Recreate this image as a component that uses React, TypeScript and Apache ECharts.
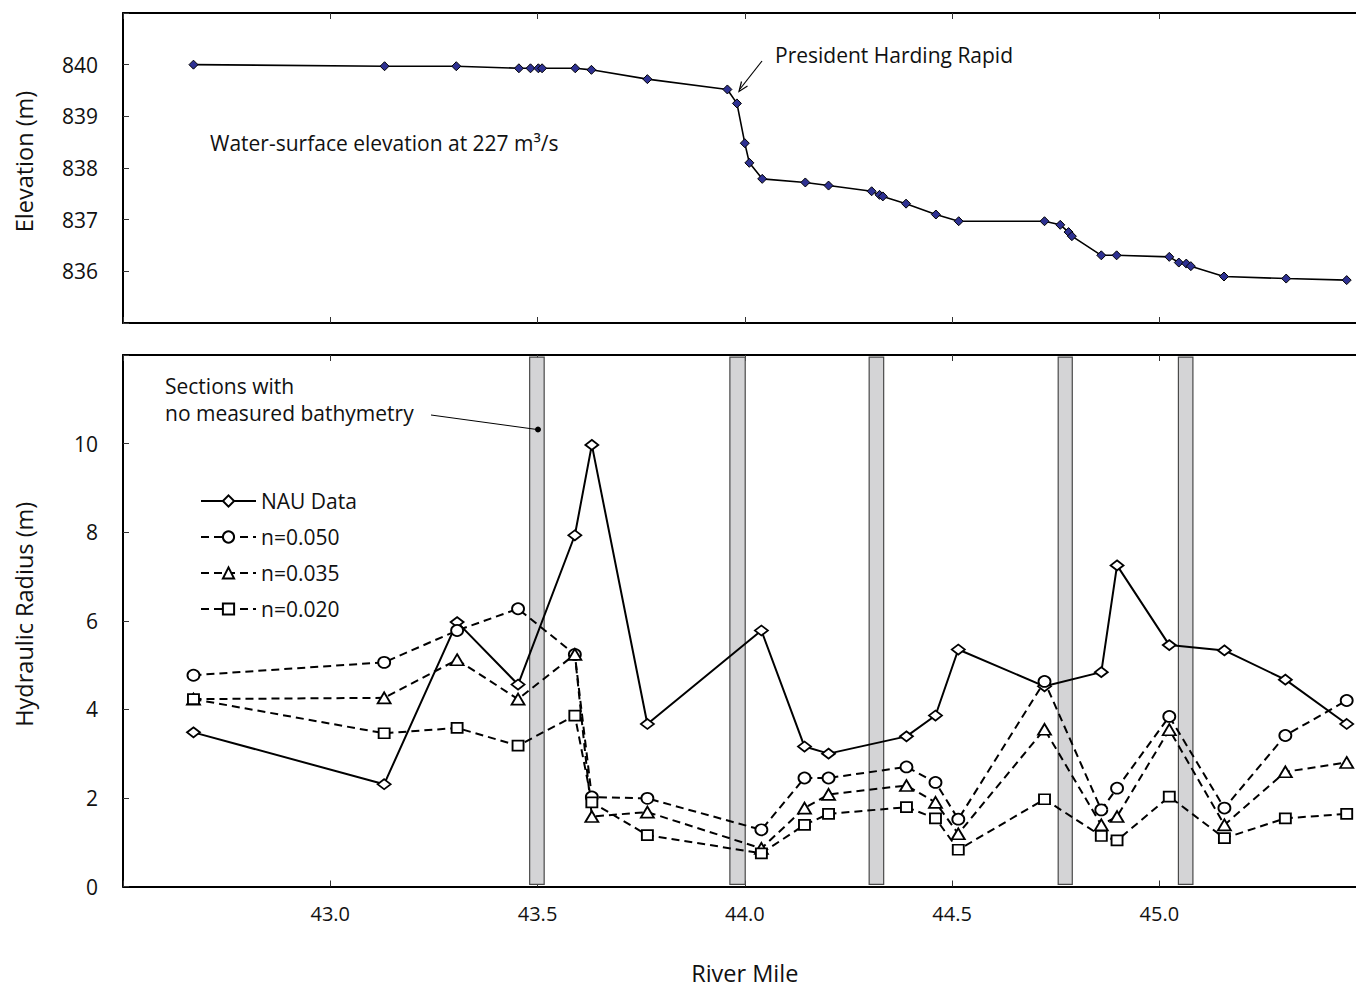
import React, { useEffect, useRef } from "react";
import * as echarts from "echarts";

// ---- Data ----
const elevMiles = [
  42.67, 43.131, 43.304, 43.455, 43.483, 43.502, 43.511, 43.591, 43.63, 43.765,
  43.958, 43.981, 44.0, 44.011, 44.042, 44.146, 44.202, 44.306, 44.325, 44.333,
  44.389, 44.461, 44.516, 44.723, 44.761, 44.781, 44.789, 44.86, 44.897, 45.024,
  45.047, 45.065, 45.076, 45.156, 45.306, 45.452,
];
const elevation = [
  840.0, 839.97, 839.97, 839.93, 839.93, 839.93, 839.93, 839.93, 839.9, 839.72,
  839.52, 839.25, 838.48, 838.1, 837.79, 837.72, 837.66, 837.55, 837.48, 837.45,
  837.31, 837.1, 836.97, 836.97, 836.9, 836.76, 836.68, 836.31, 836.31, 836.28,
  836.17, 836.15, 836.1, 835.9, 835.86, 835.83,
];

const radiusMiles = [
  42.67, 43.13, 43.306, 43.453, 43.59, 43.631, 43.765, 44.04, 44.144, 44.202,
  44.39, 44.46, 44.515, 44.723, 44.86, 44.898, 45.024, 45.157, 45.304, 45.452,
];
const nauData = [
  3.48, 2.31, 5.97, 4.56, 7.93, 9.97, 3.67, 5.78, 3.16, 3.0,
  3.39, 3.86, 5.35, 4.52, 4.84, 7.25, 5.45, 5.33, 4.67, 3.67,
];
const n050 = [
  4.77, 5.06, 5.78, 6.27, 5.24, 2.02, 1.99, 1.28, 2.45, 2.45,
  2.7, 2.35, 1.52, 4.63, 1.73, 2.22, 3.84, 1.77, 3.41, 4.2,
];
const n035 = [
  4.23, 4.26, 5.12, 4.23, 5.24, 1.58, 1.68, 0.86, 1.77, 2.08,
  2.28, 1.9, 1.19, 3.55, 1.39, 1.58, 3.54, 1.39, 2.59, 2.8,
];
const n020 = [
  4.23, 3.46, 3.58, 3.18, 3.86, 1.9, 1.16, 0.75, 1.39, 1.64,
  1.79, 1.54, 0.83, 1.97, 1.14, 1.04, 2.03, 1.09, 1.54, 1.64,
];

// sections with no measured bathymetry (river mile ranges)
const gapStart = [43.481, 43.964, 44.3, 44.756, 45.046];
const gapEnd = [43.516, 44.001, 44.335, 44.79, 45.081];

const seriesNames = ["NAU Data", "n=0.050", "n=0.035", "n=0.020"];

const FONT = "'Open Sans', 'Noto Sans', sans-serif";

const pair = (xs: number[], ys: number[]) => xs.map((x, i) => [x, ys[i]]);

export default function App() {
  const ref = useRef<HTMLDivElement>(null);

  useEffect(() => {
    if (!ref.current) return;
    const chart = echarts.init(ref.current, undefined, { renderer: "svg" });

    const xBase = {
      type: "value" as const,
      min: 42.5,
      max: 45.5,
      interval: 0.5,
      splitLine: { show: false },
      axisLine: { show: true, onZero: false, lineStyle: { color: "#000", width: 2 } },
      axisTick: { show: true, inside: true, length: 6, lineStyle: { color: "#333", width: 1 } },
    };
    const hiddenLabel = { show: false };
    const yBase = {
      type: "value" as const,
      splitLine: { show: false },
      axisLine: { show: true, onZero: false, lineStyle: { color: "#000", width: 2 } },
      axisTick: { show: true, inside: true, length: 6, lineStyle: { color: "#333", width: 1 } },
      nameLocation: "middle" as const,
      nameTextStyle: { fontFamily: FONT, fontSize: 23.5, color: "#111", padding: [0, 0, 0, 13] },
    };
    const tickLabel = { fontFamily: FONT, fontSize: 21, color: "#111" };

    const markerStyle = { color: "#fff", borderColor: "#000", borderWidth: 1.8 };
    const dashed = { color: "#000", width: 2, type: [8, 5] as any };
    const annFont = `21px ${FONT}`;

    const option: any = {
      animation: false,
      backgroundColor: "#fff",
      textStyle: { fontFamily: FONT },
      grid: [
        { left: 123, top: 13, width: 1243.6, height: 310, outerBoundsMode: "none", containLabel: false },
        { left: 123, top: 355, width: 1243.6, height: 531.5, outerBoundsMode: "none", containLabel: false },
      ],
      xAxis: [
        { ...xBase, gridIndex: 0, position: "bottom", axisLabel: hiddenLabel },
        { ...xBase, gridIndex: 0, position: "top", axisLabel: hiddenLabel },
        {
          ...xBase,
          gridIndex: 1,
          position: "bottom",
          name: "River Mile",
          nameLocation: "middle",
          nameGap: 74,
          nameTextStyle: { fontFamily: FONT, fontSize: 23.5, color: "#111" },
          axisLabel: {
            ...tickLabel,
            fontSize: 20,
            show: true,
            margin: 17,
            formatter: (v: number) => (v < 42.9 || v > 45.4 ? "" : v.toFixed(1)),
          },
        },
        { ...xBase, gridIndex: 1, position: "top", axisLabel: hiddenLabel },
      ],
      yAxis: [
        {
          ...yBase,
          gridIndex: 0,
          min: 835,
          max: 841,
          interval: 1,
          name: "Elevation (m)",
          nameGap: 87,
          axisLabel: {
            ...tickLabel,
            margin: 25,
            formatter: (v: number) => (v === 835 || v === 841 ? "" : String(v)),
          },
        },
        {
          ...yBase,
          gridIndex: 1,
          min: 0,
          max: 12,
          interval: 2,
          name: "Hydraulic Radius (m)",
          nameGap: 87,
          axisLabel: {
            ...tickLabel,
            margin: 25,
            formatter: (v: number) => (v === 12 ? "" : String(v)),
          },
        },
      ],
      legend: {
        orient: "vertical",
        left: 195,
        top: 485.5,
        itemWidth: 55,
        itemHeight: 14,
        itemGap: 15,
        selectedMode: false,
        data: seriesNames,
        textStyle: { fontFamily: FONT, fontSize: 21, color: "#111" },
      },
      series: [
        {
          type: "line",
          name: "Elevation",
          xAxisIndex: 0,
          yAxisIndex: 0,
          data: pair(elevMiles, elevation),
          symbol: "diamond",
          symbolSize: 9,
          itemStyle: { color: "#2e3192", borderColor: "#000", borderWidth: 1 },
          lineStyle: { color: "#000", width: 1.6 },
          z: 3,
        },
        {
          type: "custom",
          name: "gaps",
          xAxisIndex: 2,
          yAxisIndex: 1,
          silent: true,
          z: 1,
          data: gapStart.map((s, i) => [s, gapEnd[i]]),
          encode: { x: [0, 1] },
          renderItem: (params: any, api: any) => {
            const p1 = api.coord([api.value(0), 11.95]);
            const p2 = api.coord([api.value(1), 0.05]);
            return {
              type: "rect",
              shape: { x: p1[0], y: p1[1], width: p2[0] - p1[0], height: p2[1] - p1[1] },
              style: { fill: "#d4d4d6", stroke: "#4a4a4a", lineWidth: 1.2 },
            };
          },
        },
        {
          type: "line",
          name: "NAU Data",
          xAxisIndex: 2,
          yAxisIndex: 1,
          data: pair(radiusMiles, nauData),
          symbol: "diamond",
          symbolSize: [13, 10],
          itemStyle: markerStyle,
          lineStyle: { color: "#000", width: 2 },
          z: 4,
        },
        {
          type: "line",
          name: "n=0.050",
          xAxisIndex: 2,
          yAxisIndex: 1,
          data: pair(radiusMiles, n050),
          symbol: "circle",
          symbolSize: [12, 11],
          itemStyle: markerStyle,
          lineStyle: dashed,
          z: 4,
        },
        {
          type: "line",
          name: "n=0.035",
          xAxisIndex: 2,
          yAxisIndex: 1,
          data: pair(radiusMiles, n035),
          symbol: "triangle",
          symbolSize: [13, 11],
          itemStyle: markerStyle,
          lineStyle: dashed,
          z: 4,
        },
        {
          type: "line",
          name: "n=0.020",
          xAxisIndex: 2,
          yAxisIndex: 1,
          data: pair(radiusMiles, n020),
          symbol: "rect",
          symbolSize: [11, 10],
          itemStyle: markerStyle,
          lineStyle: dashed,
          z: 4,
        },
      ],
      graphic: [
        {
          type: "text",
          x: 210,
          y: 143,
          style: {
            text: "Water-surface elevation at 227 m³/s",
            font: annFont,
            fill: "#111",
            verticalAlign: "middle",
          },
        },
        {
          type: "text",
          x: 775,
          y: 55,
          style: {
            text: "President Harding Rapid",
            font: annFont,
            fill: "#111",
            verticalAlign: "middle",
          },
        },
        {
          type: "line",
          shape: { x1: 762, y1: 61, x2: 740, y2: 89 },
          style: { stroke: "#000", lineWidth: 1.2 },
        },
        {
          type: "polyline",
          shape: { points: [[747.5, 86], [739, 91.5], [741.5, 81.5]] },
          style: { stroke: "#000", lineWidth: 1.2, fill: null },
        },
        {
          type: "text",
          x: 165,
          y: 386,
          style: {
            text: "Sections with",
            font: annFont,
            fill: "#111",
            verticalAlign: "middle",
          },
        },
        {
          type: "text",
          x: 165,
          y: 413,
          style: {
            text: "no measured bathymetry",
            font: annFont,
            fill: "#111",
            verticalAlign: "middle",
          },
        },
        {
          type: "line",
          shape: { x1: 431, y1: 415, x2: 537, y2: 429.5 },
          style: { stroke: "#000", lineWidth: 1 },
          z: 10,
        },
        {
          type: "circle",
          shape: { cx: 538, cy: 429.5, r: 3 },
          style: { fill: "#000" },
          z: 10,
        },
      ],
    };

    chart.setOption(option);
    return () => chart.dispose();
  }, []);

  return (
    <div
      style={{ position: "absolute", left: 0, top: 0, width: 1356, height: 988, overflow: "hidden" }}
    >
      <div ref={ref} style={{ width: 1356, height: 988 }} />
    </div>
  );
}
